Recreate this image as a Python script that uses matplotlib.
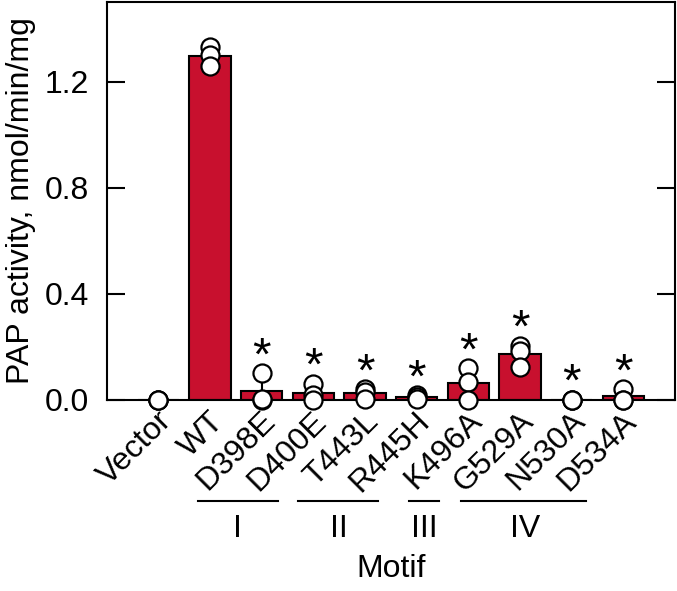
import matplotlib
matplotlib.use("Agg")
import matplotlib.pyplot as plt
import numpy as np

plt.rcParams['font.family'] = ['Liberation Sans', 'DejaVu Sans']

categories = ["Vector", "WT", "D398E", "D400E", "T443L", "R445H",
              "K496A", "G529A", "N530A", "D534A"]
replicates = [
    [0.0, 0.0, 0.0],
    [1.33, 1.30, 1.26],
    [0.10, 0.0, 0.005],
    [0.06, 0.02, 0.0],
    [0.04, 0.03, 0.005],
    [0.018, 0.01, 0.002],
    [0.119, 0.069, 0.0],
    [0.205, 0.185, 0.125],
    [0.0, 0.0, 0.0],
    [0.04, 0.0, 0.0],
]
significant = [False, False, True, True, True, True, True, True, True, True]
yticks = [0.0, 0.4, 0.8, 1.2]
motif_names = ["I", "II", "III", "IV"]
motif_spans = [(0.775, 2.32), (2.71, 4.26), (4.86, 5.43), (5.86, 8.28)]
motif_label_x = [1.53, 3.5, 5.15, 7.09]

bar_color = '#C8102E'
means = [np.mean(r) for r in replicates]
sds = [np.std(r, ddof=1) for r in replicates]
x = np.arange(len(categories))
FS = 23

fig = plt.figure(figsize=(6.77, 5.91), dpi=100)
ax = fig.add_axes([0.1576, 0.3232, 0.997 - 0.1576, 0.9966 - 0.3232])

ax.bar(x, means, width=0.8, color=bar_color, edgecolor='black', linewidth=1.5, zorder=2)
ax.errorbar(x, means, yerr=[np.zeros(len(x)), sds], fmt='none', ecolor='black',
            elinewidth=1.5, capsize=0, zorder=3)
for xi, reps in zip(x, replicates):
    ax.plot([xi] * len(reps), reps, 'o', ms=13, mfc='white', mec='black', mew=1.6,
            clip_on=False, zorder=5)
for xi, reps, sig in zip(x, replicates, significant):
    if sig:
        ax.text(xi, max(reps) + 0.06, '*', ha='center', va='center', fontsize=34, zorder=6)

ax.set_xlim(-1.0, 10.0)
ax.set_ylim(0, 1.5)
ax.set_yticks(yticks)
ax.set_yticklabels([f"{v:.1f}" for v in yticks], fontsize=FS)
ax.set_xticks(x)
ax.set_xticklabels(categories, fontsize=FS, rotation=45, ha='right', va='center',
                   rotation_mode='anchor')
ax.tick_params(axis='y', direction='in', length=13, width=1.5, pad=13, right=True)
ax.tick_params(axis='x', length=0, pad=12)
for lbl in ax.get_xticklabels():
    lbl.set_x(lbl.get_position()[0])
import matplotlib.transforms as mtransforms
offset = mtransforms.ScaledTranslation(9 / 100, 0, fig.dpi_scale_trans)
for lbl in ax.get_xticklabels():
    lbl.set_transform(lbl.get_transform() + offset)
for s in ax.spines.values():
    s.set_linewidth(1.5)
ax.set_ylabel("PAP activity, nmol/min/mg", fontsize=FS, labelpad=6)

trans = ax.get_xaxis_transform()
for name, (a, b), lx in zip(motif_names, motif_spans, motif_label_x):
    ax.plot([a, b], [-0.253, -0.253], color='black', lw=1.5, transform=trans, clip_on=False)
    ax.text(lx, -0.325, name, ha='center', va='center', fontsize=FS, transform=trans)
ax.text(0.5, -0.425, "Motif", ha='center', va='center', fontsize=FS, transform=ax.transAxes)

fig.savefig("out.png", dpi=100)
